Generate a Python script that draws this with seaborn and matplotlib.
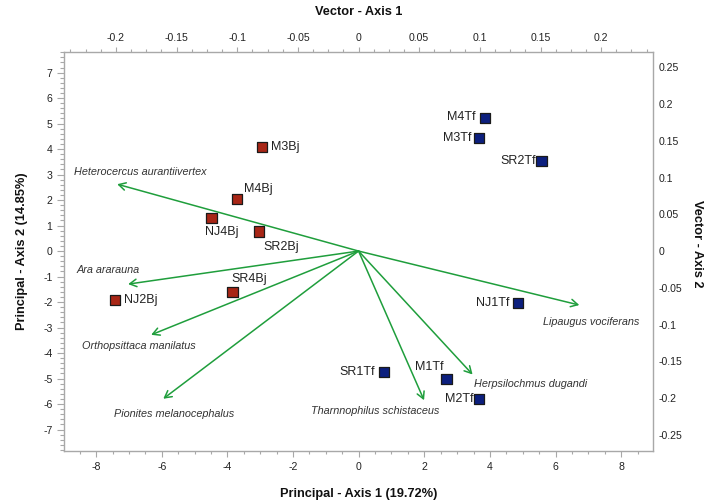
import numpy as np
import pandas as pd
import matplotlib
matplotlib.use("Agg")
import matplotlib.pyplot as plt
import seaborn as sns
from matplotlib.ticker import MultipleLocator

# ---------------- data ----------------
site_labels = ["M3Bj", "M4Bj", "NJ4Bj", "SR2Bj", "SR4Bj", "NJ2Bj",
               "M4Tf", "M3Tf", "SR2Tf", "NJ1Tf", "SR1Tf", "M1Tf", "M2Tf"]
site_axis1 = [-2.95, -3.71, -4.48, -3.03, -3.84, -7.42,
              3.84, 3.67, 5.57, 4.85, 0.77, 2.68, 3.67]
site_axis2 = [4.09, 2.03, 1.31, 0.77, -1.61, -1.93,
              5.22, 4.43, 3.52, -2.05, -4.75, -5.01, -5.79]
site_group = ["Bj"] * 6 + ["Tf"] * 7

species = ["Heterocercus aurantiivertex", "Ara ararauna", "Orthopsittaca manilatus",
           "Pionites melanocephalus", "Tharnnophilus schistaceus",
           "Herpsilochmus dugandi", "Lipaugus vociferans"]
vec_axis1 = [-0.199, -0.190, -0.171, -0.161, 0.054, 0.094, 0.182]
vec_axis2 = [0.091, -0.045, -0.114, -0.201, -0.203, -0.168, -0.0735]

x_ticks = [-8, -6, -4, -2, 0, 2, 4, 6, 8]
y_ticks = [-7, -6, -5, -4, -3, -2, -1, 0, 1, 2, 3, 4, 5, 6, 7]
vx_ticks = [-0.2, -0.15, -0.1, -0.05, 0, 0.05, 0.1, 0.15, 0.2]
vy_ticks = [-0.25, -0.2, -0.15, -0.1, -0.05, 0, 0.05, 0.1, 0.15, 0.2, 0.25]

# ---------------- styles ----------------
sns.set_theme(style="white")
plt.rcParams["font.family"] = ["Liberation Sans", "DejaVu Sans"]

# label offsets (pixels) and alignment for site labels
site_off = {
    "M3Bj": (9.6, 0, "left"), "M4Bj": (7, 10, "left"), "NJ4Bj": (10.6, -14.6, "center"),
    "SR2Bj": (4, -15.7, "left"), "SR4Bj": (-1, 13, "left"), "NJ2Bj": (9.3, 0, "left"),
    "M4Tf": (-9, 1.3, "right"), "M3Tf": (-7.5, 0, "right"), "SR2Tf": (-6, 0, "right"),
    "NJ1Tf": (-8.5, 0.5, "right"), "SR1Tf": (-9, 0, "right"), "M1Tf": (-2.7, 11.4, "right"),
    "M2Tf": (-6, 0, "right"),
}
sp_off = {
    "Heterocercus aurantiivertex": (-42.7, 12.6, "left"),
    "Ara ararauna": (-51.6, 13.7, "left"),
    "Orthopsittaca manilatus": (-69, -11.3, "left"),
    "Pionites melanocephalus": (-49, -15.6, "left"),
    "Tharnnophilus schistaceus": (-49, -10.7, "center"),
    "Herpsilochmus dugandi": (1.7, -9.4, "left"),
    "Lipaugus vociferans": (-36.3, -17.3, "left"),
}

W, H = 706, 504
fig = plt.figure(figsize=(W / 100, H / 100), dpi=100)
fig.patch.set_facecolor("white")
rect = [64.3 / W, 1 - 450.7 / H, (652.7 - 64.3) / W, (450.7 - 51.7) / H]

# vector axes (top / right), drawn beneath
axv = fig.add_axes(rect, frameon=False)
axv.set_facecolor("none")
ax = fig.add_axes(rect)
ax.set_facecolor("none")
axv.set_zorder(1)
ax.set_zorder(2)

spine_col = "#a8a8a8"
txt_col = "#222222"
green = "#1f9e3c"

# ---------- principal axes ----------
df = pd.DataFrame({"a1": site_axis1, "a2": site_axis2, "grp": site_group, "lab": site_labels})
sns.scatterplot(data=df, x="a1", y="a2", hue="grp", palette={"Bj": "#a82616", "Tf": "#0c1f7e"},
                marker="s", s=55, edgecolor="#1a1a1a", linewidth=0.9, legend=False, ax=ax, zorder=5)
for _, r in df.iterrows():
    dx, dy, ha = site_off[r["lab"]]
    ax.annotate(r["lab"], (r["a1"], r["a2"]), xytext=(dx, dy), textcoords="offset pixels",
                ha=ha, va="center", fontsize=9, color=txt_col, zorder=6)

ax.set_xlim(-8.97, 8.96)
ax.set_ylim(-7.83, 7.82)
ax.set_xticks(x_ticks)
ax.set_xticklabels([str(t) for t in x_ticks])
ax.set_yticks(y_ticks)
ax.set_yticklabels([str(t) for t in y_ticks])
ax.xaxis.set_minor_locator(MultipleLocator(0.5))
ax.yaxis.set_minor_locator(MultipleLocator(0.2))
ax.tick_params(axis="x", which="major", direction="out", length=4.3, width=0.8, color=spine_col,
               labelsize=7.6, labelcolor=txt_col, pad=3.5, bottom=True, top=False)
ax.tick_params(axis="x", which="minor", direction="out", length=2, width=0.8, color=spine_col,
               bottom=True, top=False)
ax.tick_params(axis="y", which="major", direction="out", length=4.7, width=0.8, color=spine_col,
               labelsize=7.6, labelcolor=txt_col, pad=3.8, left=True, right=False)
ax.tick_params(axis="y", which="minor", direction="out", length=3, width=0.8, color=spine_col,
               left=True, right=False)
for s in ax.spines.values():
    s.set_color(spine_col)
    s.set_linewidth(1.0)
ax.set_xlabel("")
ax.set_ylabel("")

# ---------- vector axes ----------
for name, vx, vy in zip(species, vec_axis1, vec_axis2):
    axv.annotate("", xy=(vx, vy), xytext=(0, 0),
                 arrowprops=dict(arrowstyle="->,head_length=0.55,head_width=0.3", color=green,
                                 lw=1.1, shrinkA=0, shrinkB=0, mutation_scale=9))
    dx, dy, ha = sp_off[name]
    axv.annotate(name, (vx, vy), xytext=(dx, dy), textcoords="offset pixels",
                 ha=ha, va="center", fontsize=7.8, style="italic", color="#333333")

axv.set_xlim(-0.2426, 0.2425)
axv.set_ylim(-0.2717, 0.2713)
axv.xaxis.set_ticks_position("top")
axv.xaxis.set_label_position("top")
axv.yaxis.set_ticks_position("right")
axv.yaxis.set_label_position("right")
axv.set_xticks(vx_ticks)
axv.set_xticklabels([("%g" % t) for t in vx_ticks])
axv.set_yticks(vy_ticks)
axv.set_yticklabels([("%g" % t) for t in vy_ticks])
axv.xaxis.set_minor_locator(MultipleLocator(0.0125))
axv.tick_params(axis="x", which="major", direction="out", length=3.6, width=0.8, color=spine_col,
                labelsize=7.6, labelcolor=txt_col, pad=2.5, top=True, bottom=False,
                labeltop=True, labelbottom=False)
axv.tick_params(axis="x", which="minor", direction="out", length=2, width=0.8, color=spine_col,
                top=True, bottom=False)
axv.tick_params(axis="y", which="both", length=0, labelsize=7.6, labelcolor=txt_col, pad=4.5,
                right=False, left=False, labelright=True, labelleft=False)

# ---------- axis titles ----------
fig.text(358.6 / W, 1 - 12 / H, "Vector - Axis 1", ha="center", va="center",
         fontsize=9.2, fontweight="bold", color="#111111")
fig.text(358.6 / W, 1 - 494 / H, "Principal - Axis 1 (19.72%)", ha="center", va="center",
         fontsize=9.2, fontweight="bold", color="#111111")
fig.text(22 / W, 1 - 251 / H, "Principal - Axis 2 (14.85%)", ha="center", va="center",
         rotation=90, fontsize=9.2, fontweight="bold", color="#111111")
fig.text(697 / W, 1 - 244 / H, "Vector - Axis 2", ha="center", va="center",
         rotation=-90, fontsize=9.2, fontweight="bold", color="#111111")

fig.savefig("out.png", dpi=100)
